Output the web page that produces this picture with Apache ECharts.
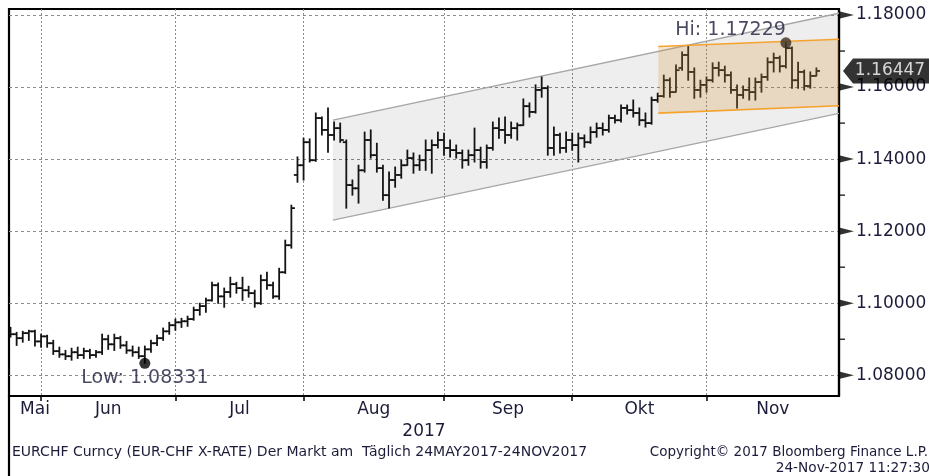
<!DOCTYPE html>
<html>
<head>
<meta charset="utf-8">
<script src="https://cdn.jsdelivr.net/npm/echarts@6/dist/echarts.min.js"></script>
<style>
  html, body { margin: 0; padding: 0; background: #fff; }
  #chart { width: 929px; height: 476px; }
</style>
</head>
<body>
<div id="chart"></div>
<script>
// EUR/CHF daily OHLC, 24 May 2017 - 24 Nov 2017 (one entry per trading day)
const openPx = [
  1.0917,1.0914,1.0903,1.0917,1.0922,1.0894,1.0908,1.0889,1.0867,1.0858,
  1.0853,1.0864,1.0856,1.0867,1.0856,1.0864,1.0900,1.0886,1.0903,1.0883,
  1.0869,1.0864,1.0853,1.0872,1.0889,1.0903,1.0922,1.0939,1.0947,1.0950,
  1.0956,1.0981,1.0992,1.1008,1.1050,1.1019,1.1031,1.1053,1.1042,1.1036,
  1.1028,1.1000,1.1064,1.1050,1.1019,1.1086,1.1161,1.1356,1.1383,1.1447,
  1.1397,1.1514,1.1481,1.1467,1.1486,1.1447,1.1328,1.1319,1.1369,1.1453,
  1.1411,1.1375,1.1300,1.1342,1.1356,1.1383,1.1403,1.1383,1.1397,1.1425,
  1.1439,1.1453,1.1431,1.1425,1.1417,1.1397,1.1411,1.1425,1.1392,1.1431,
  1.1486,1.1481,1.1467,1.1486,1.1494,1.1547,1.1531,1.1592,1.1597,1.1431,
  1.1467,1.1431,1.1453,1.1439,1.1458,1.1447,1.1475,1.1486,1.1481,1.1514,
  1.1508,1.1542,1.1536,1.1528,1.1508,1.1500,1.1564,1.1575,1.1619,1.1586,
  1.1653,1.1689,1.1642,1.1592,1.1606,1.1619,1.1653,1.1647,1.1633,1.1592,
  1.1578,1.1592,1.1586,1.1614,1.1628,1.1669,1.1681,1.1658,1.1708,1.1619,
  1.1642,1.1603,1.1631
];
const highPx = [
  1.0933,1.0919,1.0922,1.0925,1.0925,1.0914,1.0911,1.0897,1.0878,1.0869,
  1.0875,1.0878,1.0875,1.0872,1.0869,1.0914,1.0911,1.0914,1.0908,1.0894,
  1.0881,1.0878,1.0881,1.0897,1.0911,1.0931,1.0947,1.0956,1.0958,1.0964,
  1.0989,1.1000,1.1014,1.1058,1.1056,1.1042,1.1072,1.1058,1.1072,1.1047,
  1.1036,1.1078,1.1086,1.1058,1.1097,1.1175,1.1272,1.1406,1.1458,1.1456,
  1.1528,1.1517,1.1542,1.1503,1.1500,1.1453,1.1342,1.1383,1.1475,1.1481,
  1.1444,1.1383,1.1364,1.1378,1.1397,1.1425,1.1417,1.1411,1.1453,1.1453,
  1.1475,1.1472,1.1453,1.1439,1.1425,1.1425,1.1486,1.1433,1.1439,1.1503,
  1.1514,1.1517,1.1503,1.1500,1.1567,1.1556,1.1606,1.1628,1.1603,1.1489,
  1.1472,1.1475,1.1472,1.1472,1.1467,1.1489,1.1500,1.1500,1.1522,1.1522,
  1.1550,1.1550,1.1564,1.1542,1.1528,1.1572,1.1583,1.1633,1.1625,1.1661,
  1.1697,1.1714,1.1653,1.1619,1.1628,1.1667,1.1669,1.1658,1.1642,1.1606,
  1.1603,1.1625,1.1625,1.1636,1.1681,1.1694,1.1686,1.17229,1.1711,1.1669,
  1.1647,1.1642,1.1653
];
const lowPx = [
  1.0906,1.0883,1.0892,1.0897,1.0881,1.0878,1.0878,1.0858,1.0850,1.0844,
  1.0842,1.0847,1.0847,1.0847,1.0850,1.0858,1.0872,1.0869,1.0875,1.0861,
  1.0853,1.0847,1.08331,1.0864,1.0883,1.0897,1.0914,1.0925,1.0933,1.0936,
  1.0953,1.0967,1.0975,1.1006,1.1000,1.0989,1.1017,1.1028,1.1008,1.1017,
  1.0989,1.0997,1.1039,1.1014,1.1011,1.1083,1.1153,1.1336,1.1342,1.1392,
  1.1394,1.1467,1.1419,1.1453,1.1447,1.1264,1.1300,1.1278,1.1364,1.1403,
  1.1364,1.1286,1.1264,1.1322,1.1347,1.1383,1.1361,1.1369,1.1369,1.1361,
  1.1431,1.1411,1.1406,1.1403,1.1375,1.1383,1.1392,1.1375,1.1375,1.1425,
  1.1458,1.1444,1.1458,1.1453,1.1494,1.1517,1.1528,1.1572,1.1411,1.1411,
  1.1417,1.1419,1.1425,1.1392,1.1433,1.1444,1.1461,1.1467,1.1475,1.1500,
  1.1503,1.1525,1.1517,1.1494,1.1489,1.1497,1.1558,1.1572,1.1572,1.1586,
  1.1647,1.1619,1.1569,1.1572,1.1586,1.1614,1.1631,1.1614,1.1583,1.1542,
  1.1569,1.1564,1.1564,1.1586,1.1619,1.1642,1.1642,1.1653,1.1597,1.1597,
  1.1592,1.1597,1.1631
];
const closePx = [
  1.0914,1.0903,1.0917,1.0922,1.0894,1.0908,1.0889,1.0867,1.0858,1.0853,
  1.0864,1.0856,1.0867,1.0856,1.0864,1.0900,1.0886,1.0903,1.0883,1.0869,
  1.0864,1.0853,1.0872,1.0889,1.0903,1.0922,1.0939,1.0947,1.0950,1.0956,
  1.0981,1.0992,1.1008,1.1050,1.1019,1.1031,1.1053,1.1042,1.1036,1.1028,
  1.1000,1.1064,1.1050,1.1019,1.1086,1.1161,1.1264,1.1383,1.1447,1.1397,
  1.1514,1.1481,1.1467,1.1486,1.1453,1.1328,1.1319,1.1369,1.1453,1.1411,
  1.1375,1.1300,1.1342,1.1356,1.1383,1.1403,1.1383,1.1397,1.1425,1.1439,
  1.1453,1.1431,1.1425,1.1417,1.1397,1.1411,1.1425,1.1392,1.1431,1.1486,
  1.1481,1.1467,1.1486,1.1494,1.1547,1.1531,1.1592,1.1597,1.1431,1.1467,
  1.1431,1.1453,1.1439,1.1458,1.1447,1.1475,1.1486,1.1481,1.1514,1.1508,
  1.1542,1.1536,1.1528,1.1508,1.1500,1.1564,1.1575,1.1619,1.1586,1.1647,
  1.1689,1.1642,1.1592,1.1606,1.1619,1.1653,1.1647,1.1633,1.1592,1.1578,
  1.1592,1.1586,1.1614,1.1628,1.1669,1.1681,1.1658,1.1708,1.1619,1.1642,
  1.1603,1.1631,1.16447
];

// Trend channels: [start day, end day, upper start, upper end, lower start, lower end]
const longChannel  = [52.8, 135.7, 1.15083, 1.18050, 1.12306, 1.15272];
const shortChannel = [106.1, 135.7, 1.17125, 1.17328, 1.15278, 1.15483];

// Axis labelling
const yMajorTicks = [1.08, 1.10, 1.12, 1.14, 1.16, 1.18];
const yMinorTicks = [1.09, 1.11, 1.13, 1.15, 1.17];
const monthNames = ['Jan','Feb','Mär','Apr','Mai','Jun','Jul','Aug','Sep','Okt','Nov','Dez'];
const yearLabel = '2017';

const X_MIN = -0.25, X_MAX = 135.7;
const Y_MIN = 1.07425, Y_MAX = 1.18167;
const FONT = '"DejaVu Sans", Verdana, sans-serif';
const TEXT = '#1c1c3a';

// Weekday calendar for the period
const tradingDays = [];
for (let d = new Date(Date.UTC(2017, 4, 24)); d <= new Date(Date.UTC(2017, 10, 24)); d.setUTCDate(d.getUTCDate() + 1)) {
  const wd = d.getUTCDay();
  if (wd !== 0 && wd !== 6) tradingDays.push(new Date(d));
}

// Month separators sit on the last trading day of each month
const monthEnds = [];
const months = [tradingDays[0].getUTCMonth()];
for (let i = 0; i < tradingDays.length - 1; i++) {
  if (tradingDays[i].getUTCMonth() !== tradingDays[i + 1].getUTCMonth()) {
    monthEnds.push(i);
    months.push(tradingDays[i + 1].getUTCMonth());
  }
}
const monthLabelPos = [];
const monthLabelText = [];
months.forEach((m, k) => {
  const left = k === 0 ? X_MIN : monthEnds[k - 1];
  const right = k < monthEnds.length ? monthEnds[k] : X_MAX;
  let mid = (left + right) / 2;
  if (k === 0) mid = Math.max(mid, right - 1);   // keep the first label clear of the frame
  monthLabelPos.push(mid);
  monthLabelText.push(monthNames[m]);
});

const ohlc = tradingDays.map((d, i) => [i, openPx[i], highPx[i], lowPx[i], closePx[i]]);

const hiVal = Math.max(...highPx);
const hiIdx = highPx.indexOf(hiVal);
const loVal = Math.min(...lowPx);
const loIdx = lowPx.indexOf(loVal);
const lastVal = closePx[closePx.length - 1];

function channelSeries(ch, fill, edge, edgeWidth, z) {
  return {
    type: 'custom',
    z: z,
    silent: true,
    clip: true,
    encode: { x: [0, 1], y: [2, 3, 4, 5] },
    data: [ch],
    renderItem: function (params, api) {
      const a = api.coord([api.value(0), api.value(2)]);
      const b = api.coord([api.value(1), api.value(3)]);
      const c = api.coord([api.value(1), api.value(5)]);
      const d = api.coord([api.value(0), api.value(4)]);
      return {
        type: 'group',
        children: [
          { type: 'polygon', shape: { points: [a, b, c, d] }, style: { fill: fill, stroke: null } },
          { type: 'line', shape: { x1: a[0], y1: a[1], x2: b[0], y2: b[1] }, style: { stroke: edge, lineWidth: edgeWidth } },
          { type: 'line', shape: { x1: d[0], y1: d[1], x2: c[0], y2: c[1] }, style: { stroke: edge, lineWidth: edgeWidth } }
        ]
      };
    }
  };
}

const chart = echarts.init(document.getElementById('chart'), null, { renderer: 'canvas' });
chart.setOption({
  animation: false,
  backgroundColor: '#fff',
  grid: {
    left: 9, right: 90, top: 9, bottom: 80,
    show: true, borderColor: '#000', borderWidth: 2.2,
    containLabel: false, outerBoundsMode: 'none'
  },
  xAxis: {
    type: 'value', min: X_MIN, max: X_MAX,
    axisLine: { show: true, onZero: false, lineStyle: { color: '#000', width: 2.2 } },
    axisTick: { show: true, customValues: monthEnds, length: 5, inside: false, lineStyle: { color: '#000', width: 1.5 } },
    axisLabel: {
      customValues: monthLabelPos,
      formatter: function (v) {
        const k = monthLabelPos.findIndex(p => Math.abs(p - v) < 1e-6);
        return k >= 0 ? monthLabelText[k] : '';
      },
      color: TEXT, fontFamily: FONT, fontSize: 17, margin: 5,
      showMinLabel: true, showMaxLabel: true, hideOverlap: false
    },
    splitLine: { show: true, lineStyle: { color: '#8c8c8c', width: 1, type: [2, 2] } },
    name: yearLabel, nameLocation: 'middle', nameGap: 23,
    nameTextStyle: { color: TEXT, fontFamily: FONT, fontSize: 17 }
  },
  yAxis: {
    type: 'value', position: 'right', min: Y_MIN, max: Y_MAX,
    axisLine: { show: true, onZero: false, lineStyle: { color: '#000', width: 2.2 } },
    axisTick: { show: false, customValues: yMajorTicks },
    axisLabel: {
      customValues: yMajorTicks,
      formatter: v => v.toFixed(5),
      color: TEXT, fontFamily: FONT, fontSize: 17, margin: 17,
      showMinLabel: true, showMaxLabel: true
    },
    splitLine: { show: true, lineStyle: { color: '#8c8c8c', width: 1, type: [3, 3] } }
  },
  series: [
    channelSeries(longChannel, 'rgba(0,0,0,0.065)', '#a6a6a6', 1.3, 1),
    {
      type: 'custom',
      z: 3,
      silent: true,
      clip: true,
      encode: { x: 0, y: [1, 2, 3, 4] },
      data: ohlc,
      renderItem: function (params, api) {
        const i = api.value(0);
        const pO = api.coord([i, api.value(1)]);
        const pH = api.coord([i, api.value(2)]);
        const pL = api.coord([i, api.value(3)]);
        const pC = api.coord([i, api.value(4)]);
        const st = { stroke: '#141414', lineWidth: 1.8 };
        return {
          type: 'group',
          children: [
            { type: 'line', shape: { x1: pH[0], y1: pH[1] - 0.5, x2: pL[0], y2: pL[1] + 0.5 }, style: st },
            { type: 'line', shape: { x1: pO[0] - 3.6, y1: pO[1], x2: pO[0], y2: pO[1] }, style: st },
            { type: 'line', shape: { x1: pC[0], y1: pC[1], x2: pC[0] + 3.6, y2: pC[1] }, style: st }
          ]
        };
      }
    },
    channelSeries(shortChannel, 'rgba(215,150,60,0.25)', '#f5a22e', 1.6, 4),
    {
      type: 'scatter',
      z: 6,
      silent: true,
      clip: false,
      symbol: 'circle',
      symbolSize: 11,
      data: [
        {
          value: [hiIdx, hiVal],
          itemStyle: { color: '#3b3020' },
          label: {
            show: true, position: 'top', align: 'right', distance: -2,
            formatter: 'Hi: ' + hiVal.toFixed(5),
            color: TEXT, fontFamily: FONT, fontSize: 19
          }
        },
        {
          value: [loIdx, loVal],
          itemStyle: { color: '#000' },
          label: {
            show: true, position: 'bottom', distance: 0,
            formatter: 'Low: ' + loVal.toFixed(5),
            color: TEXT, fontFamily: FONT, fontSize: 19
          }
        }
      ]
    },
    {
      // arrow-head markers for the major price ticks
      type: 'scatter',
      z: 6,
      silent: true,
      clip: false,
      symbol: 'path://M0,0L14,3.5L0,7Z',
      symbolSize: [14, 7],
      symbolOffset: [8, 0],
      itemStyle: { color: '#000' },
      data: yMajorTicks.map(v => [X_MAX, v])
    },
    {
      // short outward marks for the intermediate price levels
      type: 'scatter',
      z: 6,
      silent: true,
      clip: false,
      symbol: 'rect',
      symbolSize: [5, 1.5],
      symbolOffset: [3.5, 0],
      itemStyle: { color: '#000' },
      data: yMinorTicks.map(v => [X_MAX, v])
    },
    {
      // last price tag
      type: 'scatter',
      z: 7,
      silent: true,
      clip: false,
      symbol: 'path://M0,12.5L10,0L100,0L100,25L10,25Z',
      symbolSize: [100, 25],
      symbolOffset: [54, 0],
      itemStyle: { color: '#000' },
      label: {
        show: true, position: 'inside', offset: [-3, 0],
        formatter: lastVal.toFixed(5),
        color: '#fff', fontFamily: FONT, fontSize: 17
      },
      data: [[X_MAX, lastVal]]
    }
  ],
  graphic: [
    { type: 'line', silent: true, shape: { x1: 9, y1: 396, x2: 9, y2: 476 }, style: { stroke: '#000', lineWidth: 2.2 } },
    {
      type: 'text', silent: true, left: 12, top: 445,
      style: { text: 'EURCHF Curncy (EUR-CHF X-RATE) Der Markt am  Täglich 24MAY2017-24NOV2017', font: '14px ' + FONT, fill: TEXT }
    },
    {
      type: 'text', silent: true, right: 1, top: 445,
      style: { text: 'Copyright© 2017 Bloomberg Finance L.P.', font: '13.5px ' + FONT, fill: TEXT }
    },
    {
      type: 'text', silent: true, right: -1, top: 461,
      style: { text: '24-Nov-2017 11:27:30', font: '13.7px ' + FONT, fill: TEXT }
    }
  ]
});
</script>
</body>
</html>
